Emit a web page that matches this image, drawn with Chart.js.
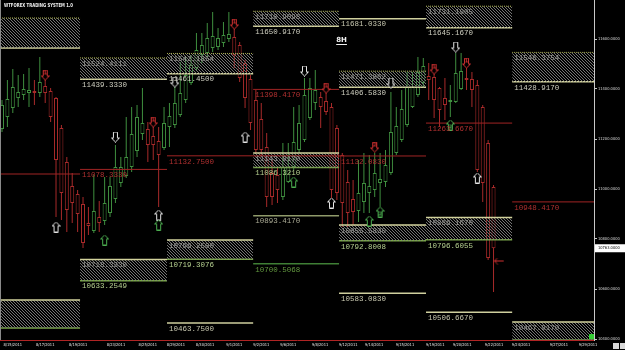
<!DOCTYPE html>
<html><head><meta charset="utf-8">
<script src="https://cdn.jsdelivr.net/npm/chart.js@4.4.0/dist/chart.umd.min.js"></script>
<style>html,body{margin:0;padding:0;background:#000;overflow:hidden}canvas{display:block}</style>
</head><body>
<canvas id="c" width="625" height="350"></canvas>
<script>
// ---- candle data (8H bars), index 0..91 ----
const opens  = [11240,11288,11324,11364,11376,11384,11392,11384,11412,11392,11364,11244,11108,11012,10980,10940,10864,10832,10888,10872,10904,10960,11024,11052,11088,11152,11220,11240,11212,11192,11164,11248,11256,11296,11356,11424,11484,11536,11544,11564,11568,11584,11600,11608,11576,11504,11440,11356,11280,11168,11064,11056,10968,11028,11088,11156,11196,11284,11344,11368,11352,11328,11244,11136,11028,10960,10912,10948,10984,10996,11024,11028,11064,11144,11196,11256,11328,11376,11424,11452,11448,11404,11364,11348,11348,11400,11444,11440,11416,11328,11184,11008];
const highs  = [11356,11436,11480,11456,11460,11484,11436,11528,11448,11404,11368,11256,11128,11064,10996,10968,10928,11056,10952,11048,11048,11176,11128,11288,11328,11336,11404,11268,11256,11248,11328,11344,11448,11508,11528,11536,11624,11624,11664,11708,11644,11668,11708,11648,11588,11516,11456,11396,11344,11224,11116,11088,11184,11184,11328,11336,11444,11444,11476,11388,11416,11344,11256,11144,11076,11036,11116,11144,11136,11144,11144,11156,11388,11328,11396,11468,11468,11528,11524,11504,11464,11408,11444,11416,11544,11544,11524,11468,11436,11336,11196,11016];
const lows   = [11228,11248,11304,11328,11356,11328,11336,11368,11344,11268,10888,10876,10828,10864,10828,10764,10816,10824,10828,10856,10888,10944,11008,11044,11068,11128,11196,11108,11116,10928,11156,11168,11244,11288,11344,11416,11476,11504,11528,11548,11556,11568,11588,11484,11428,11324,11236,11144,11128,10928,10936,10944,10956,11024,11076,11144,11188,11276,11316,11244,11296,10944,10956,10848,10848,10856,10868,10904,10904,10968,10928,11008,11056,11136,11188,11248,11324,11368,11404,11356,11284,11248,11276,11288,11344,11396,11396,11328,11068,10948,10716,10588];
const closes = [11336,11360,11408,11388,11400,11396,11384,11428,11384,11288,11116,10984,10916,10944,10900,10784,10852,10912,10864,10944,11012,11088,11088,11128,11220,11288,11264,11176,11176,11136,11264,11292,11344,11384,11456,11496,11556,11576,11604,11612,11604,11616,11620,11536,11444,11364,11264,11156,11156,10968,10968,10996,11088,11088,11188,11264,11376,11404,11396,11328,11308,10996,10984,10944,10904,10908,10984,11024,11012,11064,11040,11096,11228,11252,11320,11408,11408,11468,11492,11436,11356,11316,11336,11356,11464,11472,11436,11396,11076,11024,10724,10763];
const currentPrice = 10763;

// ---- axes ----
const yTickValues = [10400,10600,10800,11000,11200,11400,11600];
const dateTickIdx = [2,8,14.1,21.1,27,32.2,37.6,43,48,53,58.9,64.1,68.9,74.6,80.2,85.2,91.1,96.1,103.1,108.5];
const dateLabels  = ['8/15/2011','8/17/2011','8/19/2011','8/23/2011','8/25/2011','8/29/2011','8/30/2011','9/1/2011','9/2/2011','9/6/2011','9/8/2011','9/12/2011','9/14/2011','9/15/2011','9/19/2011','9/20/2011','9/22/2011','9/24/2011','9/27/2011','9/29/2011'];

// ---- zones: one per period ----
const periodEdges  = [-0.37,14.45,30.55,46.5,62.4,78.5,94.45,109.6];
const supplyTop    = [11684,11524.4111,11542.1854,11710.9098,11471.3862,11731.1905,11546.3754];
const supplyBottom = [11564,11439.3330,11461.4500,11650.9170,11406.5830,11645.1670,11428.9170];
const supplyLabels = [false,true,true,true,true,true,true];
const demandTop    = [10556,10718.3330,10796.2500,11143.9170,10855.5830,10886.1670,10467.9170];
const demandBottom = [10444,10633.2549,10719.3076,11086.3210,10792.8008,10796.6055,10396];
const demandLabels = ['none','both','both','both','both','both','top'];

// ---- level lines ----
const levelPeriod = [4,2,3,3,4,5];
const levelValue  = [11681.0330,10463.7500,10893.4170,10700.5068,10583.0830,10506.6670];
const levelKind   = ['beige','beige','olive','green','beige','beige'];
const redPeriod   = [0,1,2,3,3,4,5,6];
const redValue    = [11060,11078.3330,11132.7500,11398.4170,11132.5,11132.0830,11263.6670,10948.4170];
const redLabeled  = [false,true,true,true,false,true,true,true];

// ---- signal arrows ----
const arrowIdx  = [8,10,19,21,28,29,29,32,43,45,56,60,54,61,69,68,70,72,84,80,86,83,88,92];
const arrowVal  = [11456,10848,10796,11208,11268,10896,10856,11428,11660,11208,11472,11404,11028,10944,11168,10872,10908,11424,11568,11480,11504,11256,11044,10712];
const arrowKind = ['r1d','wu','gu','wd','r1d','wu','gu','wd','r1d','wu','wd','r1d','gu','wu','r2d','gu','g2u','wd','wd','r1d','r1d','g2u','wu','rl'];

// ---- styles ----
const BULL='#3f8f3f', BEAR='#a82a2a', RED_LINE='#a02424';
const lineColors = {beige:'#cfcf9e', olive:'#8f9a6a', green:'#3f7f35'};
const lineLabelColors = {beige:'#c8c8b0', olive:'#aaaa94', green:'#62983f'};

const canvas = document.getElementById('c');
const mainCtx = canvas.getContext('2d');
function makeHatch(){
  const c=document.createElement('canvas'); c.width=3; c.height=3;
  const g=c.getContext('2d'); g.fillStyle='#747474';
  g.fillRect(0,0,1,1); g.fillRect(1,1,1,1); g.fillRect(2,2,1,1);
  return mainCtx.createPattern(c,'repeat');
}
const hatch = makeHatch();

function arrowImg(dir,color,digit){
  const c=document.createElement('canvas');
  const g=c.getContext('2d');
  if(dir==='left'){
    c.width=11; c.height=7;
    g.strokeStyle=color; g.lineWidth=1;
    g.beginPath(); g.moveTo(1,3.5); g.lineTo(10.5,3.5); g.moveTo(1,3.5); g.lineTo(4,0.5); g.moveTo(1,3.5); g.lineTo(4,6.5); g.stroke();
    return c;
  }
  c.width=9; c.height=11;
  g.save();
  if(dir==='down'){ g.translate(0,11); g.scale(1,-1); }
  g.beginPath();
  g.moveTo(4.5,0.5); g.lineTo(8.5,4.5); g.lineTo(6.5,4.5); g.lineTo(6.5,10.5); g.lineTo(2.5,10.5); g.lineTo(2.5,4.5); g.lineTo(0.5,4.5); g.closePath();
  g.fillStyle='#000'; g.fill(); g.strokeStyle=color; g.lineWidth=1; g.stroke();
  g.restore();
  if(digit){ g.fillStyle=color; g.font='bold 5px "DejaVu Sans"'; g.textAlign='center'; g.textBaseline='middle'; g.fillText(digit,4.5,dir==='down'?4:7.5); }
  return c;
}
const arrowImgs = {
  wu: arrowImg('up','#e6e6e6'), wd: arrowImg('down','#e6e6e6'),
  gu: arrowImg('up','#4caf50'), g2u: arrowImg('up','#4caf50','2'),
  r1d: arrowImg('down','#d03030','1'), r2d: arrowImg('down','#d03030','2'),
  rl: arrowImg('left','#d03030')
};

// ---- datasets ----
const idx = opens.map((_,i)=>i);
const datasets = [];
datasets.push({
  type:'bar', label:'wicks', order:6, grouped:false,
  data: idx.map(i=>({x:i, y:[lows[i],highs[i]]})),
  backgroundColor: idx.map(i=>closes[i]>=opens[i]?BULL:BEAR),
  borderWidth:0, maxBarThickness:1, categoryPercentage:1, barPercentage:1, inflateAmount:0
});
datasets.push({
  type:'bar', label:'bodies', order:5, grouped:false,
  data: idx.map(i=>({x:i, y:[opens[i],closes[i]]})),
  backgroundColor:'#000',
  borderColor: idx.map(i=>closes[i]>=opens[i]?BULL:BEAR),
  borderWidth:1, borderSkipped:false, maxBarThickness:4, categoryPercentage:1, barPercentage:1, inflateAmount:0
});
function seg(p,v){ return [{x:periodEdges[p],y:v},{x:periodEdges[p+1],y:v}]; }
supplyTop.forEach((t,p)=>{
  datasets.push({type:'line',order:3,data:seg(p,t),fill:{value:supplyBottom[p]},backgroundColor:hatch,
    borderColor:'#a6aa4e',borderWidth:1,borderDash:[1,1],pointRadius:0});
  datasets.push({type:'line',order:3,data:seg(p,supplyBottom[p]),fill:false,borderColor:'#d2d29c',borderWidth:1.5,pointRadius:0});
});
demandTop.forEach((t,p)=>{
  datasets.push({type:'line',order:3,data:seg(p,t),fill:{value:demandBottom[p]},backgroundColor:hatch,
    borderColor:'#d2d29c',borderWidth:1.5,pointRadius:0});
  datasets.push({type:'line',order:3,data:seg(p,demandBottom[p]),fill:false,borderColor:'#7aa64a',borderWidth:1.5,pointRadius:0});
});
levelValue.forEach((v,k)=>{
  datasets.push({type:'line',order:2,data:seg(levelPeriod[k],v),fill:false,borderColor:lineColors[levelKind[k]],borderWidth:1.5,pointRadius:0});
});
redValue.forEach((v,k)=>{
  datasets.push({type:'line',order:2,data:seg(redPeriod[k],v),fill:false,borderColor:RED_LINE,borderWidth:1,pointRadius:0});
});
datasets.push({
  type:'scatter', order:1,
  data: arrowIdx.map((x,k)=>({x:x,y:arrowVal[k]})),
  pointStyle: arrowKind.map(k=>arrowImgs[k]), pointRadius:5, pointHoverRadius:5
});

// ---- text plugin ----
const textPlugin = {
  id:'texts',
  afterDatasetsDraw(chart){
    const {ctx, scales:{x,y}, chartArea:a} = chart;
    ctx.save();
    ctx.textAlign='left'; ctx.textBaseline='top';
    ctx.font='7.5px "Liberation Mono"';
    const X = p => x.getPixelForValue(periodEdges[p])+2;
    supplyTop.forEach((t,p)=>{
      if(!supplyLabels[p]) return;
      ctx.fillStyle='#9c9c98'; ctx.fillText(t.toFixed(4), X(p), y.getPixelForValue(t)+2);
      ctx.fillStyle='#cfcfc0'; ctx.fillText(supplyBottom[p].toFixed(4), X(p), y.getPixelForValue(supplyBottom[p])+2);
    });
    demandTop.forEach((t,p)=>{
      const m=demandLabels[p]; if(m==='none') return;
      ctx.fillStyle='#9c9c98'; ctx.fillText(t.toFixed(4), X(p), y.getPixelForValue(t)+2);
      if(m==='both'){ ctx.fillStyle='#b6d090'; ctx.fillText(demandBottom[p].toFixed(4), X(p), y.getPixelForValue(demandBottom[p])+2); }
    });
    levelValue.forEach((v,k)=>{
      ctx.fillStyle=lineLabelColors[levelKind[k]];
      ctx.fillText(v.toFixed(4), X(levelPeriod[k]), y.getPixelForValue(v)+2);
    });
    redValue.forEach((v,k)=>{
      if(!redLabeled[k]) return;
      ctx.fillStyle='#b03030';
      ctx.fillText(v.toFixed(4), X(redPeriod[k]), y.getPixelForValue(v)+2);
    });
    // title and timeframe
    ctx.fillStyle='#f0f0f0';
    ctx.font='bold 5.5px "DejaVu Sans"';
    ctx.fillText('WTFOREX TRADING SYSTEM 1.0', a.left+4, a.top+3, 69);
    ctx.font='bold 7px "DejaVu Sans"';
    const hx = a.left + (a.right-a.left)*0.566, hy = a.top+37;
    ctx.fillText('8H', hx, hy);
    ctx.fillRect(hx, hy+7, ctx.measureText('8H').width, 1);
    // left border
    ctx.fillStyle='#8a8a8a'; ctx.fillRect(a.left, a.top, 1, a.bottom-a.top);
    // current price tag
    const py = y.getPixelForValue(currentPrice);
    ctx.fillStyle='#ffffff'; ctx.fillRect(a.right+1, py-4, 31, 8);
    ctx.fillStyle='#000'; ctx.font='4px "DejaVu Sans Condensed","DejaVu Sans"'; ctx.textBaseline='middle';
    ctx.fillText(currentPrice.toFixed(4), a.right+4, py);
    // small corner markers
    ctx.fillStyle='#33cc33'; ctx.fillRect(a.right-5, a.bottom-6, 5, 5);
    ctx.fillStyle='#d8d8d8'; ctx.fillRect(a.right+19, a.bottom+3, 6, 6); ctx.fillRect(a.right+26, a.bottom+3, 5, 6);
    ctx.restore();
  }
};

function noPad(s){ s.paddingTop=0; s.paddingBottom=0; s.paddingLeft=0; s.paddingRight=0; }

new Chart(canvas, {
  type:'bar',
  data:{datasets},
  options:{
    responsive:false, animation:false, devicePixelRatio:1,
    layout:{padding:0, autoPadding:false},
    plugins:{legend:{display:false}, tooltip:{enabled:false}},
    scales:{
      x:{ type:'linear', min:-0.37, max:109.6, offset:false,
        afterBuildTicks:s=>{ s.ticks = dateTickIdx.map(v=>({value:v})); },
        afterFit:s=>{ s.height=10; noPad(s); },
        ticks:{ color:'#e4e4e4', font:{family:'"DejaVu Sans Condensed","DejaVu Sans"', size:4}, padding:3,
          maxRotation:0, minRotation:0, autoSkip:false, callback:(v,i)=>dateLabels[i] },
        grid:{ display:false, drawTicks:false, offset:false },
        border:{ display:true, color:'#b02424', width:1, dash:[2,1] }
      },
      y:{ type:'linear', position:'right', min:10396, max:11756,
        afterBuildTicks:s=>{ s.ticks = yTickValues.map(v=>({value:v})); },
        afterFit:s=>{ s.width=31; noPad(s); },
        ticks:{ color:'#d8d8d8', font:{family:'"DejaVu Sans Condensed","DejaVu Sans"', size:4}, padding:1,
          callback:v=>Number(v).toFixed(4) },
        grid:{ display:true, drawOnChartArea:false, drawTicks:true, tickLength:3, tickColor:'#c8c8c8', color:'#c8c8c8' },
        border:{ display:true, color:'#c8c8c8', width:1 }
      }
    }
  },
  plugins:[textPlugin]
});
</script>
</body></html>
